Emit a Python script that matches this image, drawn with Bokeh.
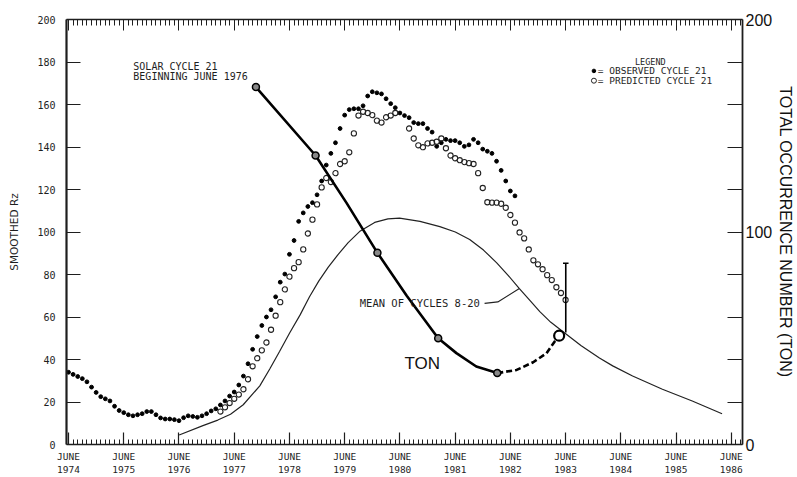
import numpy as np
from bokeh.plotting import figure
from bokeh.models import Range1d, LinearAxis, FixedTicker
from bokeh.embed import file_html
from bokeh.resources import INLINE
from bokeh.core.properties import value

# ---------------- data ----------------
START = 1974 + 5 / 12          # June 1974 as decimal year (month index 0)

# observed smoothed sunspot number (monthly, from June 1974)
observed = [34, 33, 32, 31, 29.5, 27, 24.5, 22.5, 21.5, 20.5, 18, 16, 15, 14, 13.5, 14,
            14.5, 15.5, 15.5, 14, 12.5, 12, 12, 11.7, 11.2, 12.6, 13.5, 13.2, 12.8, 13.5,
            14.5, 15.8, 16.8, 18.6, 20.5, 22.8, 24.7, 28, 32.2, 38, 44.8, 50.8, 56, 60,
            63.4, 69.5, 76.4, 80.2, 89.5, 96, 105, 109, 112, 113.8, 117.5, 124, 131.5, 137,
            142, 148.7, 155, 157.6, 158, 158, 159.4, 164, 166, 165.5, 165, 162.7, 160.4,
            158.5, 156, 154.8, 153.8, 151.5, 151, 151, 148.7, 147, 140.3, 142, 143.6, 143,
            143, 142, 140.3, 141, 143.6, 142, 139, 138, 137, 133.3, 129, 124, 119.3, 117]

# predicted cycle 21 (month index from June 1974, value)
pred_months = list(range(33, 72)) + list(range(74, 109))
predicted = [15.5, 17.5, 19.5, 21.5, 23.5, 26, 30.7, 36.8, 40.6, 44.3, 48, 54, 60.6, 67,
             73, 79, 83, 85.8, 91.8, 99.3, 105.8, 113, 121, 125.4, 123.5, 127.7, 132,
             133.3, 137.5, 146.4, 154.8, 156.6, 156, 155, 152.4, 151.5, 154, 154.8, 156,
             148.7, 144, 140.8, 139.9, 141.7, 142, 142.5, 144, 139.4, 136, 134.7, 133.8,
             132.9, 132.4, 132, 127.7, 120.7, 114, 113.8, 113.8, 113.3, 111.4, 108, 104.4,
             99.8, 97, 91.8, 86.7, 84.8, 82.5, 79.7, 77.4, 74, 71.3, 68]

# mean of cycles 8-20
mean_t = [1976.42, 1976.85, 1977.12, 1977.35, 1977.58, 1977.88, 1978.06, 1978.24, 1978.42,
          1978.61, 1978.78, 1978.95, 1979.12, 1979.30, 1979.48, 1979.70, 1979.96, 1980.20,
          1980.41, 1980.78, 1981.14, 1981.42, 1981.68, 1981.93, 1982.17, 1982.38, 1982.58,
          1982.77, 1982.95, 1983.15, 1983.36, 1983.70, 1984.03, 1984.27, 1984.63, 1985.17,
          1985.71, 1986.25]
mean_v = [4.5, 8.9, 11.5, 14.2, 18.7, 27.6, 35.5, 43.9, 52.5, 61, 69.5, 77, 83.5, 89.5, 95,
          100.5, 104.5, 106.2, 106.5, 105, 102.5, 100, 96.5, 91.5, 85.5, 79.5, 73.4, 67.8,
          62.5, 57.5, 53.3, 46.5, 40.7, 37, 32.2, 26, 20.5, 14.5]

# total occurrence number (TON)
ton_t = [1977.81, 1978.89, 1979.45, 1980.01, 1980.54, 1981.11, 1981.44, 1981.80, 1982.18]
ton_v = [168.2, 136.0, 113.7, 90.2, 70, 50, 43, 36.7, 33.6]
ton_pts_t = [1977.81, 1978.89, 1980.01, 1981.11, 1982.18]
ton_pts_v = [168.2, 136.0, 90.2, 50, 33.6]
ton_pred_t = [1982.18, 1982.53, 1982.83, 1983.07, 1983.22, 1983.30]
ton_pred_v = [33.6, 35.1, 38.7, 42.9, 48.5, 51.2]

err_t = 1983.42
err_lo, err_hi = 52.7, 85.3

years = list(range(1974, 1987))
year_labels = ["JUNE\n%d" % y for y in years]
left_ticks = list(range(0, 201, 20))
right_ticks = [0, 100, 200]

# ---------------- figure ----------------
FONT = "DejaVu Sans Mono"
INK = "#1e1e1e"
p = figure(width=797, height=477, output_backend="svg", toolbar_location=None,
           x_range=Range1d(1974.38, 1986.62), y_range=Range1d(0, 200),
           min_border_left=66, min_border_right=54, min_border_top=19, min_border_bottom=30,
           x_axis_location=None, y_axis_location=None)
p.extra_y_ranges = {"ton": Range1d(0, 200)}
p.xgrid.visible = False
p.ygrid.visible = False
p.outline_line_color = None
p.background_fill_color = "white"
p.border_fill_color = "white"

major = [y + 5 / 12 for y in years]
minor = [START + m / 12 for m in range(-1, 12 * 13)]

bottom = LinearAxis(ticker=FixedTicker(ticks=major, minor_ticks=minor))
bottom.major_label_overrides = {t: lab for t, lab in zip(major, year_labels)}
bottom.major_tick_in = 12
bottom.major_tick_out = 0
bottom.minor_tick_in = 5
bottom.minor_tick_out = 0
bottom.axis_line_width = 1.5
bottom.axis_line_color = INK
bottom.major_tick_line_color = INK
bottom.minor_tick_line_color = INK
bottom.major_tick_line_width = 1.2
bottom.major_label_standoff = 6
bottom.major_label_text_font = FONT
bottom.major_label_text_font_size = "9.5px"
bottom.major_label_text_color = INK
p.add_layout(bottom, "below")

top = LinearAxis(ticker=FixedTicker(ticks=major, minor_ticks=minor))
top.major_label_overrides = {t: "" for t in major}
top.major_label_text_font_size = "1px"
top.major_label_standoff = 0
top.major_tick_in = 11
top.major_tick_out = 0
top.minor_tick_in = 6
top.minor_tick_out = 0
top.axis_line_width = 1.5
top.axis_line_color = INK
top.major_tick_line_color = INK
top.minor_tick_line_color = INK
p.add_layout(top, "above")

left = LinearAxis(ticker=FixedTicker(ticks=left_ticks, minor_ticks=[]))
left.axis_label = "SMOOTHED Rz"
left.axis_label_text_font = "DejaVu Sans"
left.axis_label_text_font_style = "normal"
left.axis_label_text_font_size = "10.5px"
left.axis_label_text_color = INK
left.axis_label_standoff = 14
left.major_tick_in = 14
left.major_tick_out = 0
left.major_label_standoff = 11
left.axis_line_width = 2.2
left.axis_line_color = INK
left.major_tick_line_color = INK
left.major_label_text_font = FONT
left.major_label_text_font_size = "10px"
left.major_label_text_color = INK
p.add_layout(left, "left")

right = LinearAxis(y_range_name="ton",
                   ticker=FixedTicker(ticks=right_ticks,
                                      minor_ticks=[v for v in left_ticks if v % 100]))
right.axis_label = "TOTAL OCCURRENCE NUMBER (TON)"
right.axis_label_text_font = "Liberation Sans"
right.axis_label_text_font_style = "normal"
right.axis_label_text_font_size = "16px"
right.axis_label_text_color = "#111"
right.axis_label_standoff = 2
right.major_tick_in = 15
right.major_tick_out = 0
right.minor_tick_in = 15
right.minor_tick_out = 0
right.major_label_standoff = 3
right.axis_line_width = 1.8
right.axis_line_color = INK
right.major_tick_line_color = INK
right.minor_tick_line_color = INK
right.minor_tick_line_width = 1.2
right.major_label_text_font = "Liberation Sans"
right.major_label_text_font_size = "16px"
right.major_label_text_color = "#111"
p.add_layout(right, "right")

# ---------------- glyphs ----------------
obs_t = [START + i / 12 for i in range(len(observed))]
pred_t = [START + m / 12 for m in pred_months]

p.line(mean_t, mean_v, line_color="#222", line_width=1.2)

p.scatter(obs_t, observed, marker="circle", size=3.8, fill_color="black", line_color="black")
p.scatter(pred_t, predicted, marker="circle", size=5.2, fill_color=None, line_color="#222",
          line_width=1.1)

# TON curve
p.line(ton_t, ton_v, line_color="black", line_width=2.6, y_range_name="ton")
p.line(ton_pred_t, ton_pred_v, line_color="black", line_width=2.6, line_dash="6 3",
       y_range_name="ton")
p.scatter(ton_pts_t, ton_pts_v, marker="circle", size=7, fill_color="#888", line_color="black",
          line_width=1.5, y_range_name="ton")
p.scatter([ton_pred_t[-1]], [ton_pred_v[-1]], marker="circle", size=10, fill_color="white",
          line_color="black", line_width=2.2, y_range_name="ton")

# error bar on last predicted point
p.segment(x0=[err_t], y0=[err_lo], x1=[err_t], y1=[err_hi], line_color="black", line_width=1.6)
p.segment(x0=[err_t - 0.05], y0=[err_hi], x1=[err_t + 0.05], y1=[err_hi], line_color="black",
          line_width=1.4)

# annotations
p.text(x=[1975.59, 1975.59], y=[177.7, 173.4], text=["SOLAR CYCLE 21", "BEGINNING JUNE 1976"],
       text_font=value(FONT), text_font_size="10px", text_baseline="middle", text_color=INK)
p.text(x=[1984.95], y=[180.2], text=["LEGEND"], text_font=value(FONT), text_font_size="8.5px",
       text_align="center", text_baseline="middle", text_color=INK)
p.scatter([1983.93], [175.8], marker="circle", size=3.6, fill_color="black", line_color="black")
p.scatter([1983.93], [171.2], marker="circle", size=5, fill_color=None, line_color="#222")
p.text(x=[1984.0, 1984.0], y=[175.8, 171.2], text=["= OBSERVED CYCLE 21", "= PREDICTED CYCLE 21"],
       text_font=value(FONT), text_font_size="9.5px", text_baseline="middle", text_color=INK)

p.text(x=[1979.69], y=[66.4], text=["MEAN OF CYCLES 8-20"], text_font=value(FONT),
       text_font_size="10.5px", text_baseline="middle", text_color=INK)
p.line([1981.95, 1982.19, 1982.58], [66.4, 67.1, 73.4], line_color="#222", line_width=1.1)

p.text(x=[1980.82], y=[38.3], text=["TON"], text_font=value("Liberation Sans"),
       text_font_size="17px", text_align="center", text_baseline="middle", text_color="#111")

open("out.html", "w").write(file_html(p, INLINE))
